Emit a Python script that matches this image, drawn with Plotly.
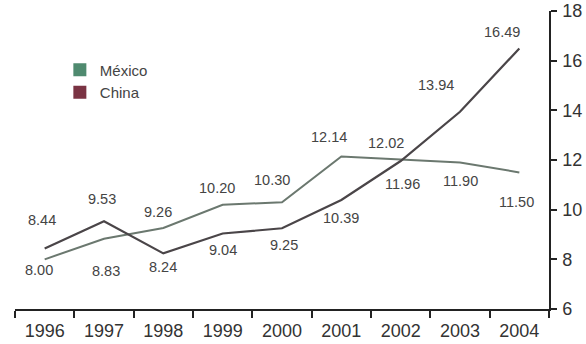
import plotly.graph_objects as go

years = ["1996", "1997", "1998", "1999", "2000", "2001", "2002", "2003", "2004"]
mexico = [8.00, 8.83, 9.26, 10.20, 10.30, 12.14, 12.02, 11.90, 11.50]
china = [8.44, 9.53, 8.24, 9.04, 9.25, 10.39, 11.96, 13.94, 16.49]
y_ticks = [6, 8, 10, 12, 14, 16, 18]

# label offsets in pixels (dx, dy with dy positive = down)
mex_off = [(-6, 11), (2, 32), (-5, -16), (-6, -17), (-10, -22), (-12, -20), (-15, -17), (0, 19), (-3, 30)]
chn_off = [(-3, -28), (-2, -22), (0, 14), (0, 16), (2, 17), (0, 18), (2, 23), (-24, -27), (-17, -17)]

fig = go.Figure()
fig.add_trace(go.Scatter(x=years, y=mexico, mode="lines", line=dict(color="#6b786f", width=2),
                         showlegend=False, hoverinfo="skip"))
fig.add_trace(go.Scatter(x=years, y=china, mode="lines", line=dict(color="#4a4548", width=2.2),
                         showlegend=False, hoverinfo="skip"))
# legend entries with square swatches
fig.add_trace(go.Scatter(x=[None], y=[None], mode="markers", name="México",
                         marker=dict(symbol="square", size=13, color="#4f8a6f")))
fig.add_trace(go.Scatter(x=[None], y=[None], mode="markers", name="China",
                         marker=dict(symbol="square", size=13, color="#7a3343")))

annotations = []
for series, offs in ((mexico, mex_off), (china, chn_off)):
    for i, (v, (dx, dy)) in enumerate(zip(series, offs)):
        annotations.append(dict(x=i, y=v, xref="x", yref="y", text=f"{v:.2f}", showarrow=False,
                                xshift=dx, yshift=-dy,
                                font=dict(size=14.5, color="#444", family="Liberation Sans")))

fig.update_layout(
    width=586, height=344,
    margin=dict(l=15, r=37, t=11, b=35, autoexpand=False),
    paper_bgcolor="white", plot_bgcolor="white",
    font=dict(family="Liberation Sans", color="#333"),
    annotations=annotations,
    legend=dict(x=0.084, y=0.857, xanchor="left", yanchor="top",
                font=dict(size=15, color="#444"), itemwidth=30,
                bgcolor="rgba(0,0,0,0)", tracegroupgap=0),
    xaxis=dict(type="category", tickson="boundaries", ticks="outside", ticklen=7,
               tickcolor="#222", tickwidth=1.5, showline=True, linecolor="#222", linewidth=1.5,
               showgrid=False, zeroline=False, tickfont=dict(size=18, color="#333"),
               range=[-0.5, 8.5], automargin=False, ticklabelstandoff=5),
    yaxis=dict(side="right", range=[6, 18], tickvals=y_ticks, ticks="outside", ticklen=6,
               tickcolor="#222", tickwidth=1.5, showline=True, linecolor="#222", linewidth=1.5,
               showgrid=False, zeroline=False, tickfont=dict(size=18, color="#333"),
               automargin=False, ticklabelstandoff=2),
)

fig.write_html("out.html")
